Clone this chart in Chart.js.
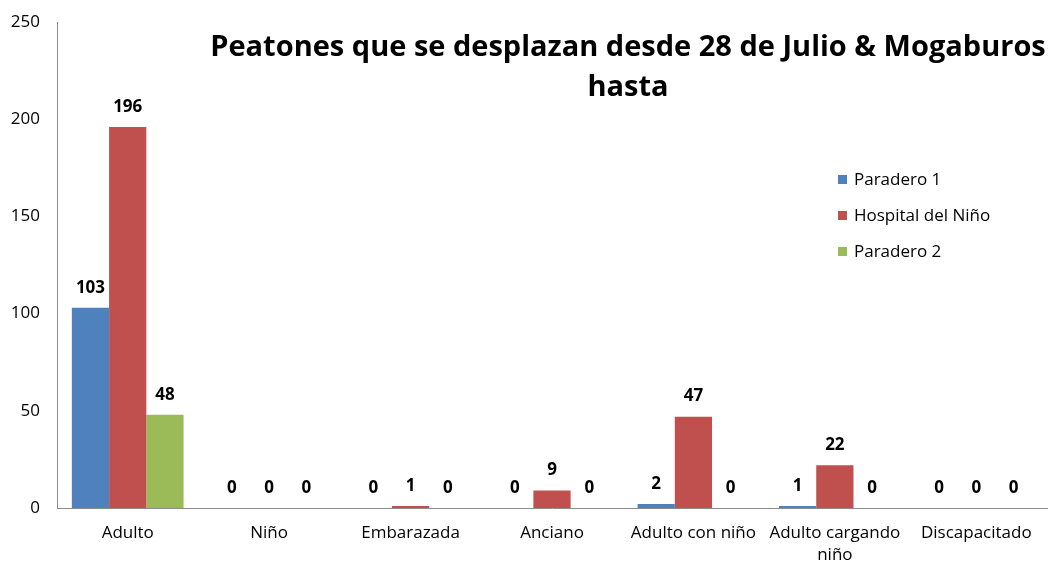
<!DOCTYPE html>
<html>
<head>
<meta charset="utf-8">
<script src="https://cdn.jsdelivr.net/npm/chart.js@4.4.1/dist/chart.umd.min.js"></script>
<style>
  html, body { margin: 0; padding: 0; background: #fff; }
  #wrap { width: 1057px; height: 565px; }
</style>
</head>
<body>
<div id="wrap"><canvas id="chart" width="1057" height="565"></canvas></div>
<script>
var categories = ["Adulto", "Niño", "Embarazada", "Anciano", "Adulto con niño", ["Adulto cargando", "niño"], "Discapacitado"];
var seriesNames = ["Paradero 1", "Hospital del Niño", "Paradero 2"];
var paradero1 = [103, 0, 0, 0, 2, 1, 0];
var hospital = [196, 0, 1, 9, 47, 22, 0];
var paradero2 = [48, 0, 0, 0, 0, 0, 0];
var yTicks = [0, 50, 100, 150, 200, 250];
var colors = ["#4F81BD", "#C0504D", "#9BBB59"];
var titleLines = ["Peatones que se desplazan desde 28 de Julio & Mogaburos", "hasta"];

var FONT = "'Open Sans', sans-serif";

// value labels above each bar
var valueLabels = {
    id: "valueLabels",
    afterDatasetsDraw: function (chart) {
        var ctx = chart.ctx;
        ctx.save();
        ctx.font = "bold 17px " + FONT;
        ctx.fillStyle = "#000";
        ctx.textAlign = "center";
        ctx.textBaseline = "middle";
        chart.data.datasets.forEach(function (ds, i) {
            var meta = chart.getDatasetMeta(i);
            meta.data.forEach(function (bar, j) {
                ctx.fillText(ds.data[j], bar.x, bar.y - 20);
            });
        });
        ctx.restore();
    }
};

// title and legend drawn over the plot, like the excel chart
var overlay = {
    id: "overlay",
    afterDraw: function (chart) {
        var ctx = chart.ctx;
        ctx.save();
        ctx.fillStyle = "#000";
        ctx.textAlign = "center";
        ctx.textBaseline = "middle";
        ctx.font = "bold 29px " + FONT;
        ctx.fillText(titleLines[0], 628, 48);
        ctx.fillText(titleLines[1], 628, 88);

        ctx.textAlign = "left";
        ctx.font = "17px " + FONT;
        chart.data.datasets.forEach(function (ds, i) {
            var y = 180 + i * 36;
            ctx.fillStyle = ds.backgroundColor;
            ctx.fillRect(838, y - 5, 9, 9);
            ctx.fillStyle = "#000";
            ctx.fillText(ds.label, 854, y);
        });
        ctx.restore();
    }
};

new Chart(document.getElementById("chart").getContext("2d"), {
    type: "bar",
    data: {
        labels: categories,
        datasets: [
            { label: seriesNames[0], data: paradero1, backgroundColor: colors[0] },
            { label: seriesNames[1], data: hospital, backgroundColor: colors[1] },
            { label: seriesNames[2], data: paradero2, backgroundColor: colors[2] }
        ]
    },
    options: {
        responsive: false,
        animation: false,
        layout: { padding: { top: 22, right: 10, left: 0, bottom: 0 } },
        plugins: {
            legend: { display: false },
            title: { display: false },
            tooltip: { enabled: false }
        },
        datasets: {
            bar: { categoryPercentage: 0.79, barPercentage: 1.0 }
        },
        scales: {
            x: {
                grid: { display: false },
                border: { display: true, color: "#8c8c8c", width: 1 },
                ticks: { color: "#000", font: { family: FONT, size: 17, lineHeight: 1.3 }, padding: 6, maxRotation: 0, autoSkip: false },
                afterFit: function (scale) { scale.height = 57; }
            },
            y: {
                min: 0,
                max: 250,
                afterBuildTicks: function (scale) {
                    scale.ticks = yTicks.map(function (v) { return { value: v }; });
                },
                grid: { display: false },
                border: { display: true, color: "#8c8c8c", width: 1 },
                ticks: { color: "#000", font: { family: FONT, size: 17 }, padding: 9 },
                afterFit: function (scale) { scale.width = 57; }
            }
        }
    },
    plugins: [valueLabels, overlay]
});
</script>
</body>
</html>
